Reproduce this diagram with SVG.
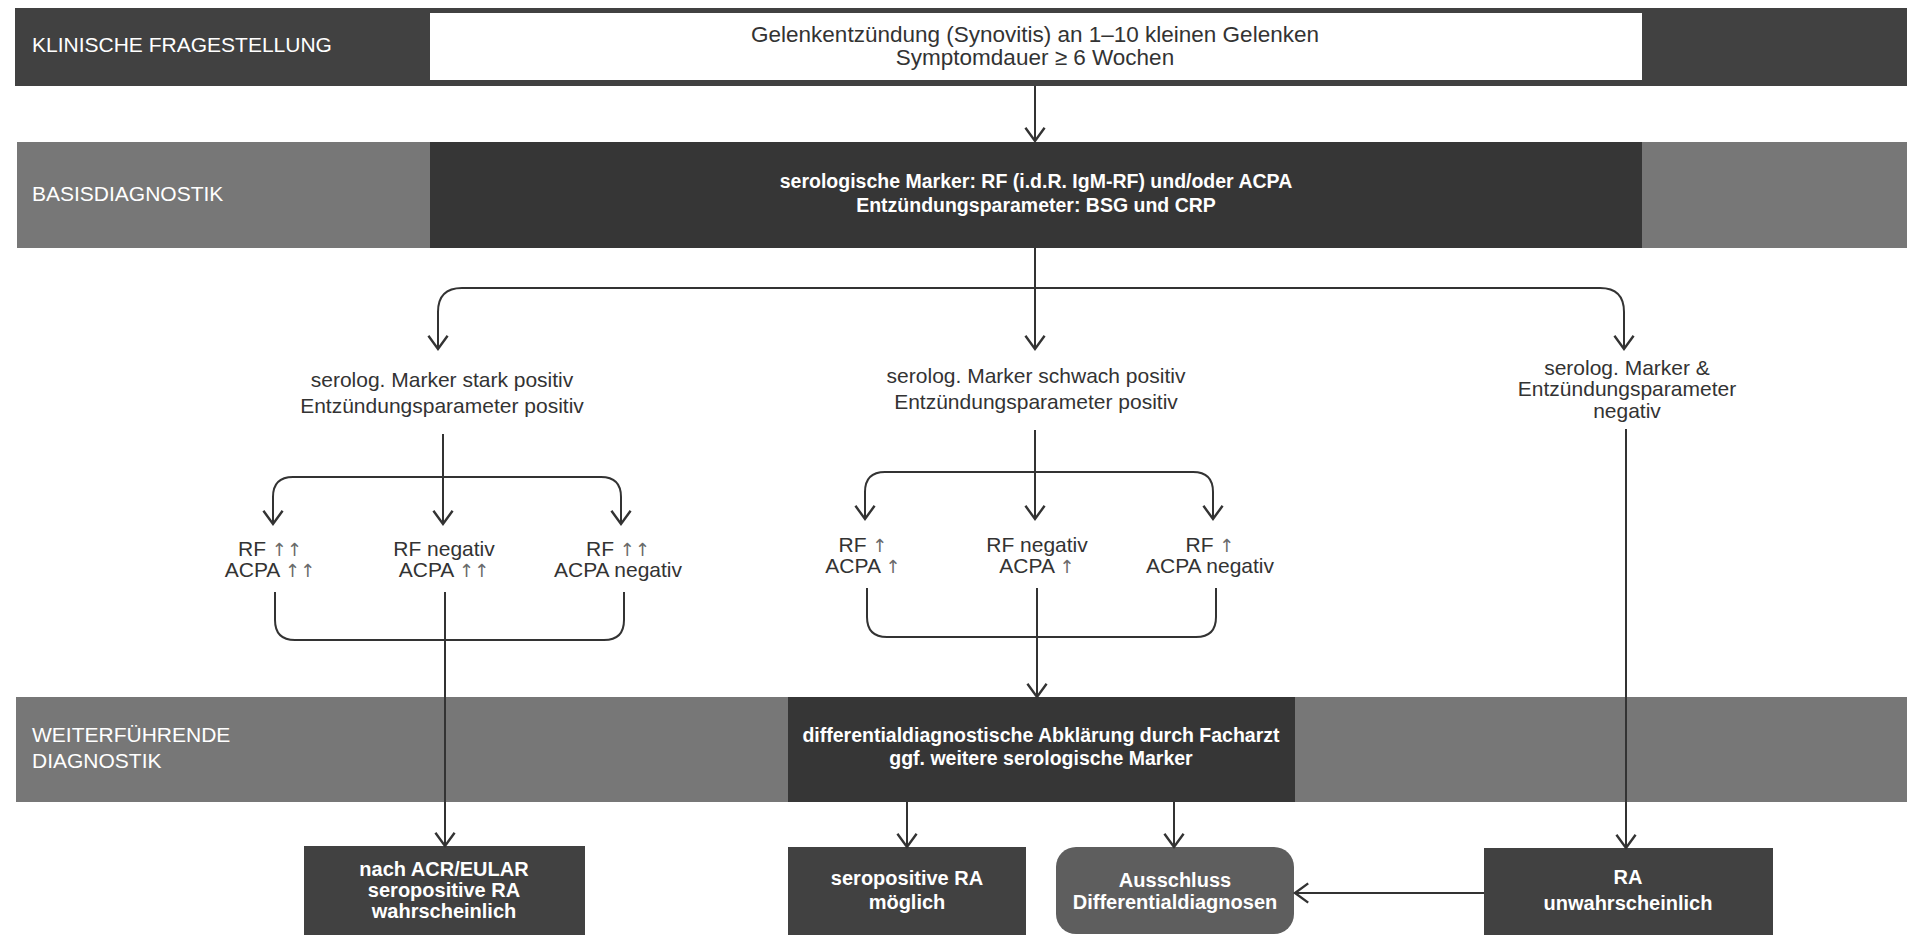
<svg xmlns="http://www.w3.org/2000/svg" width="1907" height="935" viewBox="0 0 1907 935">
<defs>
<style>
text{font-family:"Liberation Sans",Arial,sans-serif;text-anchor:middle}
.sec{fill:#fff;font-size:21px;text-anchor:start}
.lbl{fill:#333;font-size:21px}
.top{fill:#333;font-size:22.5px}
.bw{fill:#fff;font-size:19.5px;font-weight:bold}
.box{fill:#fff;font-size:20px;font-weight:bold}
.ar{fill:#6a6a6a;font-family:"DejaVu Sans",sans-serif;font-size:18px}
.ln{fill:none;stroke:#333;stroke-width:2}
.arr{marker-end:url(#ah)}
</style>
<marker id="ah" markerUnits="userSpaceOnUse" markerWidth="24" markerHeight="24" viewBox="-13 -10 15 20" refX="0" refY="0" orient="auto">
<path d="M-11,-8 L0,0 L-11,8" fill="none" stroke="#333" stroke-width="2"/>
</marker>
</defs>
<rect width="1907" height="935" fill="#fff"/>

<g id="band1">
<rect x="15" y="8" width="1892" height="78" fill="#414141"/>
<text class="sec" x="32" y="52">KLINISCHE FRAGESTELLUNG</text>
</g>
<g id="node-frage">
<rect x="430" y="13" width="1212" height="67" fill="#fff"/>
<text class="top" x="1035" y="42">Gelenkentzündung (Synovitis) an 1–10 kleinen Gelenken</text>
<text class="top" x="1035" y="65">Symptomdauer ≥ 6 Wochen</text>
</g>

<g id="band2">
<rect x="17" y="142" width="1890" height="106" fill="#777"/>
<text class="sec" x="32" y="201">BASISDIAGNOSTIK</text>
</g>
<g id="node-basis">
<rect x="430" y="142" width="1212" height="106" fill="#363636"/>
<text class="bw" x="1036" y="188">serologische Marker: RF (i.d.R. IgM-RF) und/oder ACPA</text>
<text class="bw" x="1036" y="212">Entzündungsparameter: BSG und CRP</text>
</g>

<g id="band3">
<rect x="16" y="697" width="1891" height="105" fill="#777"/>
<text class="sec" x="32" y="742">WEITERFÜHRENDE</text>
<text class="sec" x="32" y="768">DIAGNOSTIK</text>
</g>
<g id="node-diff">
<rect x="788" y="697" width="507" height="105" fill="#363636"/>
<text class="bw" x="1041" y="742">differentialdiagnostische Abklärung durch Facharzt</text>
<text class="bw" x="1041" y="765">ggf. weitere serologische Marker</text>
</g>

<g id="node-stark">
<text class="lbl" x="442" y="387">serolog. Marker stark positiv</text>
<text class="lbl" x="442" y="413">Entzündungsparameter positiv</text>
</g>
<g id="node-schwach">
<text class="lbl" x="1036" y="383">serolog. Marker schwach positiv</text>
<text class="lbl" x="1036" y="409">Entzündungsparameter positiv</text>
</g>
<g id="node-negativ">
<text class="lbl" x="1627" y="375">serolog. Marker &amp;</text>
<text class="lbl" x="1627" y="396">Entzündungsparameter</text>
<text class="lbl" x="1627" y="418">negativ</text>
</g>

<g id="node-s1">
<text class="lbl" x="270" y="556">RF <tspan class="ar">↑↑</tspan></text>
<text class="lbl" x="270" y="577">ACPA <tspan class="ar">↑↑</tspan></text>
</g>
<g id="node-s2">
<text class="lbl" x="444" y="556">RF negativ</text>
<text class="lbl" x="444" y="577">ACPA <tspan class="ar">↑↑</tspan></text>
</g>
<g id="node-s3">
<text class="lbl" x="618" y="556">RF <tspan class="ar">↑↑</tspan></text>
<text class="lbl" x="618" y="577">ACPA negativ</text>
</g>

<g id="node-w1">
<text class="lbl" x="863" y="552">RF <tspan class="ar">↑</tspan></text>
<text class="lbl" x="863" y="573">ACPA <tspan class="ar">↑</tspan></text>
</g>
<g id="node-w2">
<text class="lbl" x="1037" y="552">RF negativ</text>
<text class="lbl" x="1037" y="573">ACPA <tspan class="ar">↑</tspan></text>
</g>
<g id="node-w3">
<text class="lbl" x="1210" y="552">RF <tspan class="ar">↑</tspan></text>
<text class="lbl" x="1210" y="573">ACPA negativ</text>
</g>

<g id="node-acr">
<rect x="304" y="846" width="281" height="100" fill="#414141"/>
<text class="box" x="444" y="876">nach ACR/EULAR</text>
<text class="box" x="444" y="897">seropositive RA</text>
<text class="box" x="444" y="918">wahrscheinlich</text>
</g>
<g id="node-moeglich">
<rect x="788" y="847" width="238" height="100" fill="#414141"/>
<text class="box" x="907" y="885">seropositive RA</text>
<text class="box" x="907" y="909">möglich</text>
</g>
<g id="node-ausschluss">
<rect x="1056" y="847" width="238" height="87" rx="20" ry="20" fill="#5e5e5e"/>
<text class="box" x="1175" y="887">Ausschluss</text>
<text class="box" x="1175" y="909">Differentialdiagnosen</text>
</g>
<g id="node-unwahr">
<rect x="1484" y="848" width="289" height="100" fill="#414141"/>
<text class="box" x="1628" y="884">RA</text>
<text class="box" x="1628" y="910">unwahrscheinlich</text>
</g>

<g id="connectors">
<path class="ln arr" d="M1035,86 L1035,141"/>
<path class="ln arr" d="M1035,248 L1035,349"/>
<path class="ln arr" d="M1035,288 L462,288 Q438,288 438,312 L438,349"/>
<path class="ln arr" d="M1035,288 L1600,288 Q1624,288 1624,312 L1624,349"/>

<path class="ln arr" d="M443,434 L443,524"/>
<path class="ln arr" d="M443,477 L293,477 Q273,477 273,497 L273,524"/>
<path class="ln arr" d="M443,477 L601,477 Q621,477 621,497 L621,524"/>
<path class="ln" d="M275,592 L275,620 Q275,640 295,640 L604,640 Q624,640 624,620 L624,592"/>
<path class="ln arr" d="M445,592 L445,846"/>

<path class="ln arr" d="M1035,430 L1035,519"/>
<path class="ln arr" d="M1035,472 L885,472 Q865,472 865,492 L865,519"/>
<path class="ln arr" d="M1035,472 L1193,472 Q1213,472 1213,492 L1213,519"/>
<path class="ln" d="M867,588 L867,617 Q867,637 887,637 L1196,637 Q1216,637 1216,617 L1216,588"/>
<path class="ln arr" d="M1037,588 L1037,697"/>

<path class="ln arr" d="M1626,429 L1626,848"/>
<path class="ln arr" d="M907,802 L907,847"/>
<path class="ln arr" d="M1174,802 L1174,847"/>
<path class="ln arr" d="M1484,893 L1295,893"/>
</g>
</svg>
